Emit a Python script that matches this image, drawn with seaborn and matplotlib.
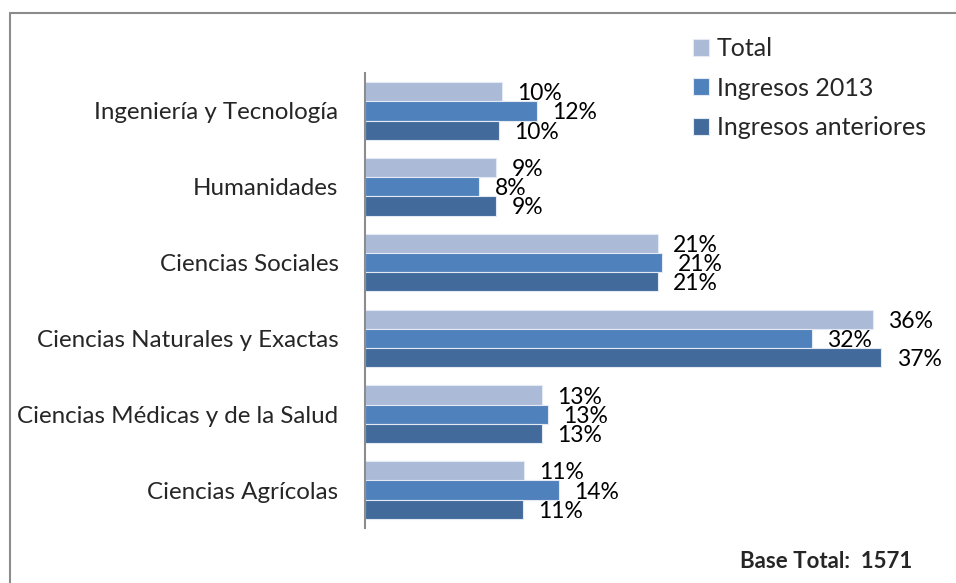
import pandas as pd
import numpy as np
import matplotlib.pyplot as plt
import seaborn as sns
from matplotlib.lines import Line2D

# ----------------------------------------------
# Data (percent of students)
# ----------------------------------------------
areas = ["Ingeniería y Tecnología", "Humanidades", "Ciencias Sociales",
         "Ciencias Naturales y Exactas", "Ciencias Médicas y de la Salud",
         "Ciencias Agrícolas"]
series = ["Total", "Ingresos 2013", "Ingresos anteriores"]

total = [9.8, 9.4, 21.0, 36.4, 12.7, 11.4]
ingresos_2013 = [12.3, 8.2, 21.3, 32.0, 13.1, 13.9]
ingresos_anteriores = [9.6, 9.4, 21.0, 37.0, 12.7, 11.3]

colors = ["#AABAD7", "#4F81BD", "#426A9B"]

df = pd.DataFrame({"Area": areas * 3,
                   "Serie": np.repeat(series, len(areas)),
                   "Valor": total + ingresos_2013 + ingresos_anteriores})

# ----------------------------------------------
# Plot
# ----------------------------------------------
sns.set_style("white")
plt.rcParams['font.family'] = ['Lato', 'DejaVu Sans']

fig = plt.figure(figsize=(9.56, 5.83), dpi=100)
ax = fig.add_axes([365 / 956, 1 - 528 / 583, 575 / 956, 455 / 583])

sns.barplot(data=df, y="Area", x="Valor", hue="Serie", order=areas,
            hue_order=series, palette=colors, saturation=1, orient="h",
            width=0.76, edgecolor="#E4EAF3", linewidth=0.8, ax=ax)

for cont in ax.containers:
    vals = [b.get_width() for b in cont]
    labs = ax.bar_label(cont, labels=[f"{round(v)}%" for v in vals],
                        padding=11, fontsize=16.5, color="black")
    for t in labs:
        t.set_va("center_baseline")

ax.set_xlim(0, 41.2)
ax.set_ylim(len(areas) - 0.5, -0.5)
ax.set_xlabel("")
ax.set_ylabel("")
ax.xaxis.set_visible(False)
ax.tick_params(axis="y", length=0, pad=19, labelsize=17.4)
for s in ["top", "right", "bottom"]:
    ax.spines[s].set_visible(False)
ax.spines["left"].set_color("#8C8C8C")
ax.spines["left"].set_linewidth(1.5)

ax.legend(loc="upper left", bbox_to_anchor=(683 / 956, 1 - 27 / 583),
          bbox_transform=fig.transFigure, frameon=False, fontsize=18,
          handlelength=0.65, handleheight=0.65, handletextpad=0.3,
          labelspacing=0.66, borderaxespad=0)

fig.text(912 / 956, 1 - 562 / 583, "Base Total:  1571", ha="right",
         va="center", fontsize=16, fontweight="bold")

# outer frame of the chart area
fig.add_artist(Line2D([9.5 / 956, 9.5 / 956], [0, 1 - 13 / 583],
                      transform=fig.transFigure, color="#8C8C8C", lw=1.5))
fig.add_artist(Line2D([9.5 / 956, 1], [1 - 13 / 583, 1 - 13 / 583],
                      transform=fig.transFigure, color="#8C8C8C", lw=1.5))

fig.savefig("out.png", dpi=100, facecolor="white")
